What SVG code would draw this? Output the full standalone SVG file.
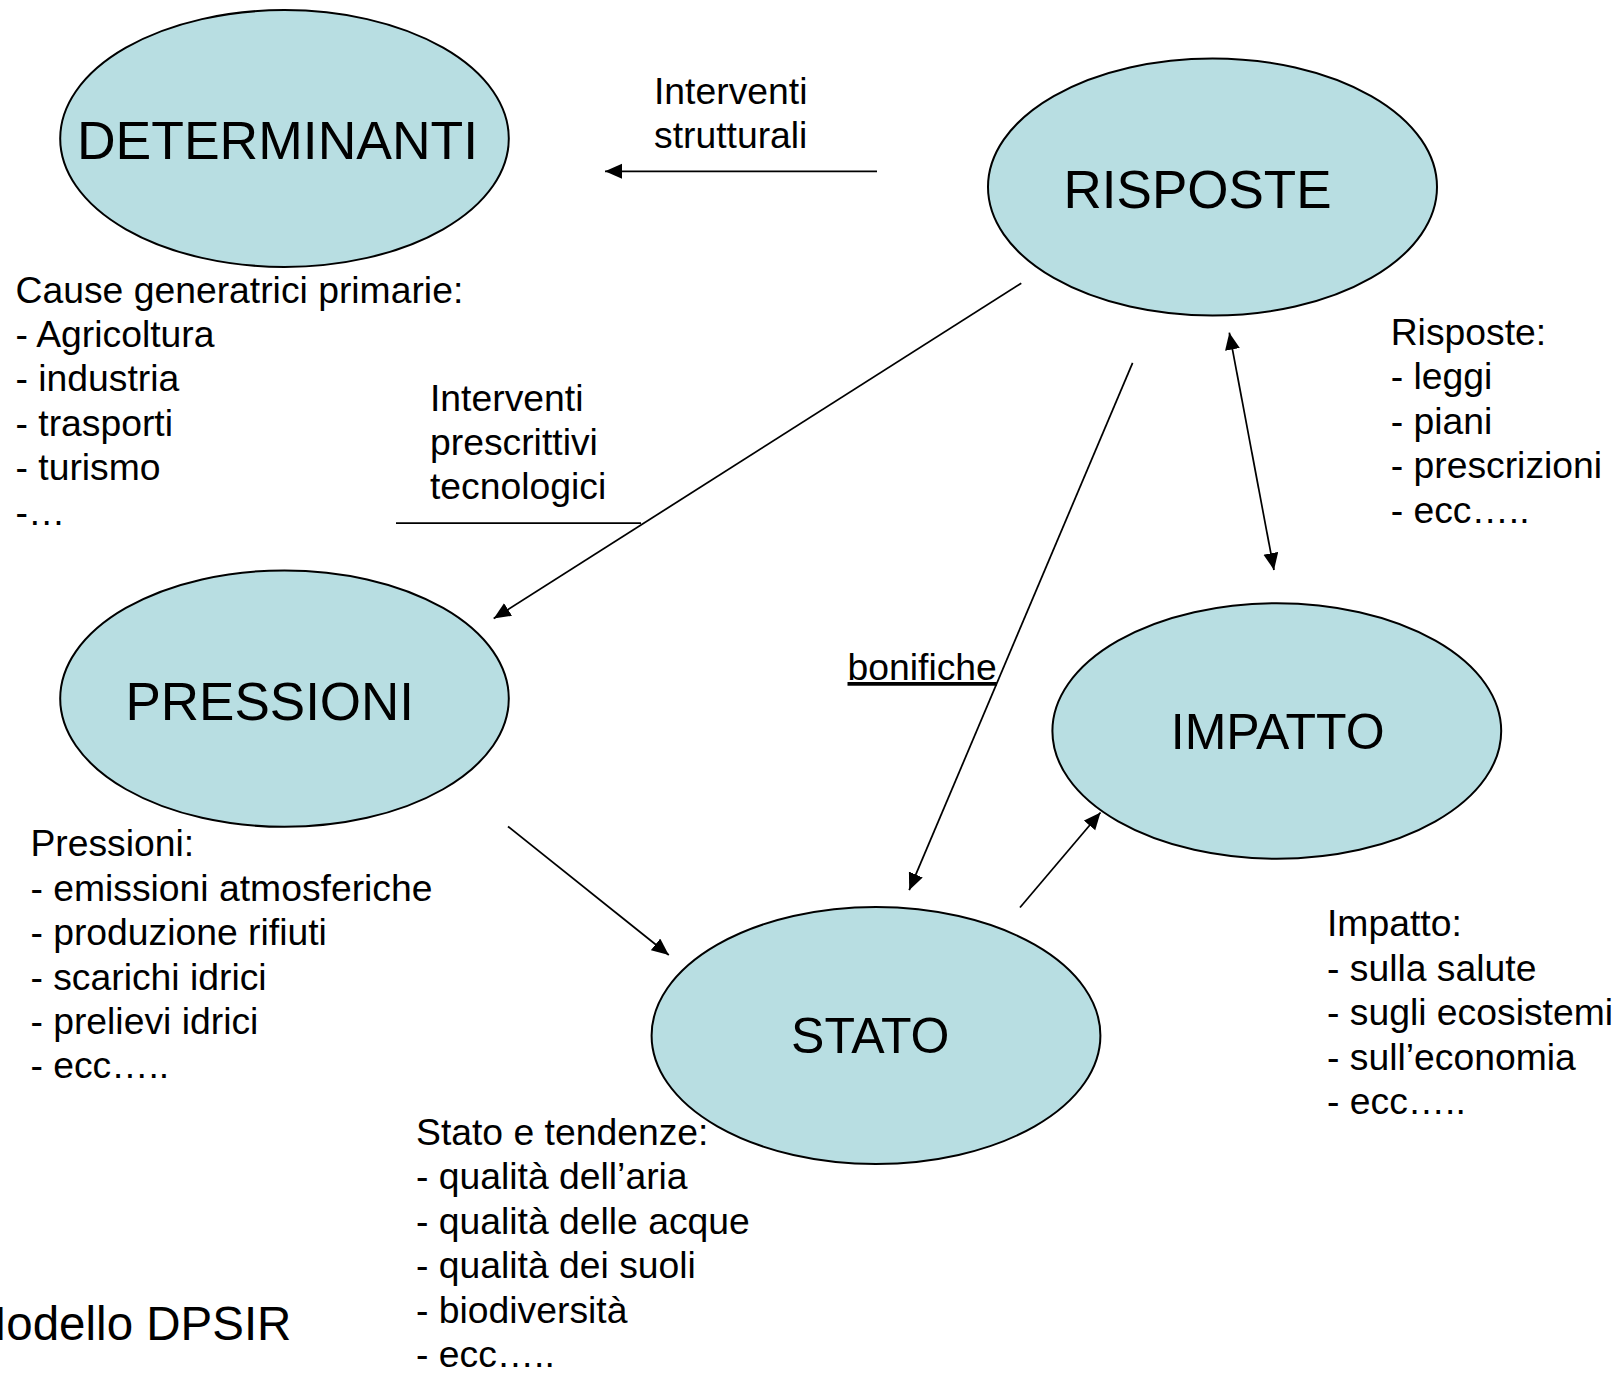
<svg xmlns="http://www.w3.org/2000/svg" width="1618" height="1374" viewBox="0 0 1618 1374">
  <style>
    .node { fill: #B8DEE2; stroke: #000; stroke-width: 2; }
    .title { font-family: "Liberation Sans", Arial, sans-serif; fill: #000; text-anchor: middle; }
    .txt { font-family: "Liberation Sans", Arial, sans-serif; font-size: 37.3px; fill: #000; }
    .conn { stroke: #000; stroke-width: 1.75; fill: none; }
  </style>
  <defs>
    <marker id="arrow" markerUnits="userSpaceOnUse" markerWidth="18" markerHeight="16" refX="17" refY="7.5" orient="auto-start-reverse">
      <path d="M0,0 L17,7.5 L0,15 Z" fill="#000"/>
    </marker>
  </defs>
  <rect width="1618" height="1374" fill="#fff"/>

  <g id="connectors">
    <line class="conn" x1="877" y1="171.3" x2="605" y2="171.3" marker-end="url(#arrow)"/>
    <line class="conn" x1="1021.3" y1="283.2" x2="493.7" y2="618.6" marker-end="url(#arrow)"/>
    <line class="conn" x1="396" y1="523.2" x2="641" y2="523.2"/>
    <line class="conn" x1="1132.6" y1="362.8" x2="909.2" y2="890.2" marker-end="url(#arrow)"/>
    <line class="conn" x1="1229.3" y1="332.7" x2="1274" y2="570" marker-start="url(#arrow)" marker-end="url(#arrow)"/>
    <line class="conn" x1="508" y1="826.5" x2="668.8" y2="955" marker-end="url(#arrow)"/>
    <line class="conn" x1="1020" y1="907.5" x2="1100.5" y2="812.5" marker-end="url(#arrow)"/>
  </g>

  <g id="determinanti">
    <ellipse class="node" cx="284.5" cy="138.5" rx="224.3" ry="128.4"/>
    <text class="title" x="277.5" y="159" font-size="53.5">DETERMINANTI</text>
  </g>
  <g id="risposte">
    <ellipse class="node" cx="1212.5" cy="187" rx="224.5" ry="128.6"/>
    <text class="title" x="1197.6" y="208" font-size="53">RISPOSTE</text>
  </g>
  <g id="pressioni">
    <ellipse class="node" cx="284.5" cy="698.6" rx="224.3" ry="128.2"/>
    <text class="title" x="269.8" y="719.6" font-size="53">PRESSIONI</text>
  </g>
  <g id="impatto">
    <ellipse class="node" cx="1276.8" cy="731" rx="224.4" ry="127.8"/>
    <text class="title" x="1277.7" y="748.6" font-size="50">IMPATTO</text>
  </g>
  <g id="stato">
    <ellipse class="node" cx="876" cy="1035.5" rx="224.4" ry="128.5"/>
    <text class="title" x="870.3" y="1052.7" font-size="50">STATO</text>
  </g>

  <g id="labels">
    <text class="txt" x="654" y="104.3">Interventi</text>
    <text class="txt" x="654" y="148.3">strutturali</text>

    <text class="txt" x="430" y="410.5">Interventi</text>
    <text class="txt" x="430" y="455">prescrittivi</text>
    <text class="txt" x="430" y="499.3">tecnologici</text>

    <text class="txt" x="847.5" y="680" text-decoration="underline">bonifiche</text>
  </g>

  <g id="determinanti-list">
    <text class="txt" x="15.5" y="303">Cause generatrici primarie:</text>
    <text class="txt" x="15.5" y="347">- Agricoltura</text>
    <text class="txt" x="15.5" y="391.3">- industria</text>
    <text class="txt" x="15.5" y="436">- trasporti</text>
    <text class="txt" x="15.5" y="480.4">- turismo</text>
    <text class="txt" x="15.5" y="524.5">-…</text>
  </g>

  <g id="risposte-list">
    <text class="txt" x="1390.7" y="345">Risposte:</text>
    <text class="txt" x="1390.7" y="389.3">- leggi</text>
    <text class="txt" x="1390.7" y="433.7">- piani</text>
    <text class="txt" x="1390.7" y="478.2">- prescrizioni</text>
    <text class="txt" x="1390.7" y="522.6">- ecc…..</text>
  </g>

  <g id="pressioni-list">
    <text class="txt" x="30.4" y="856">Pressioni:</text>
    <text class="txt" x="30.4" y="900.5">- emissioni atmosferiche</text>
    <text class="txt" x="30.4" y="945">- produzione rifiuti</text>
    <text class="txt" x="30.4" y="989.6">- scarichi idrici</text>
    <text class="txt" x="30.4" y="1034">- prelievi idrici</text>
    <text class="txt" x="30.4" y="1078">- ecc…..</text>
  </g>

  <g id="impatto-list">
    <text class="txt" x="1327" y="936">Impatto:</text>
    <text class="txt" x="1327" y="980.5">- sulla salute</text>
    <text class="txt" x="1327" y="1025">- sugli ecosistemi</text>
    <text class="txt" x="1327" y="1069.5">- sull’economia</text>
    <text class="txt" x="1327" y="1114">- ecc…..</text>
  </g>

  <g id="stato-list">
    <text class="txt" x="416" y="1145">Stato e tendenze:</text>
    <text class="txt" x="416" y="1189">- qualità dell’aria</text>
    <text class="txt" x="416" y="1233.5">- qualità delle acque</text>
    <text class="txt" x="416" y="1278">- qualità dei suoli</text>
    <text class="txt" x="416" y="1322.5">- biodiversità</text>
    <text class="txt" x="416" y="1367">- ecc…..</text>
  </g>

  <g id="title">
    <text x="-33.3" y="1340" font-family="&quot;Liberation Sans&quot;, Arial, sans-serif" font-size="47.5" fill="#000">Modello DPSIR</text>
  </g>
</svg>
